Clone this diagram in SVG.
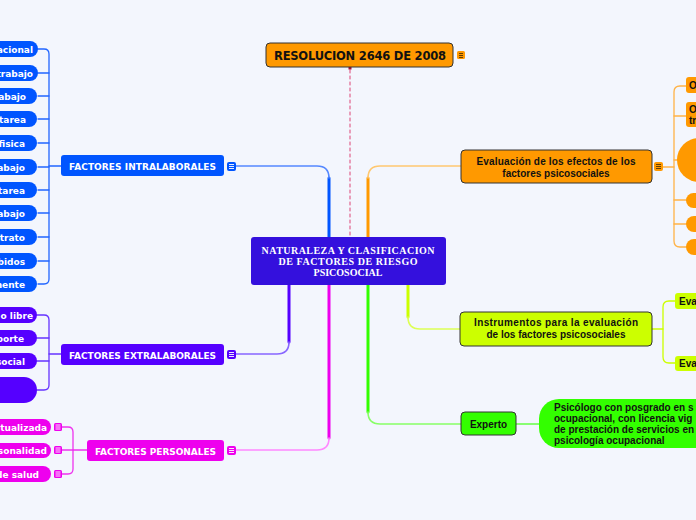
<svg xmlns="http://www.w3.org/2000/svg" width="696" height="520" viewBox="0 0 696 520">
<style>
.bg{fill:#f3f6fd}
.lbl{font-family:"Liberation Sans",Arial,sans-serif;font-weight:bold;font-size:10px}
.pl{font-family:"DejaVu Sans","Liberation Sans",sans-serif;font-weight:bold;font-size:9px;fill:#fff}
.cap{font-family:"DejaVu Sans","Liberation Sans",sans-serif;font-weight:bold;font-size:9px;fill:#fff}
.w{fill:#fff}
.k{fill:#111}
.ctr{font-family:"Liberation Serif","Times New Roman",serif;font-weight:bold;font-size:10px;fill:#fff}
.bd{stroke:#333;stroke-width:1}
.ln{fill:none;stroke-linecap:round;stroke-linejoin:round}
</style>
<rect class="bg" x="0" y="0" width="696" height="520"/>

<g id="connectors">
  <path class="ln" d="M329,237 V178" stroke="#0055ff" stroke-width="3"/>
  <path class="ln" d="M329,178 Q329,166 317,166 H236" stroke="#5588ff" stroke-width="1.6"/>
  <path class="ln" d="M368,237 V178" stroke="#ff9900" stroke-width="3"/>
  <path class="ln" d="M368,178 Q368,166 380,166 H461" stroke="#ffc870" stroke-width="1.6"/>
  <path class="ln" d="M350,70 V237" stroke="#dd4477" stroke-width="1" stroke-dasharray="3,3" stroke-linecap="butt"/>
  <rect x="348.5" y="66.5" width="3" height="3" fill="#aa1133"/>
  <path class="ln" d="M289,285 V342" stroke="#5500ff" stroke-width="3"/>
  <path class="ln" d="M289,342 Q289,354 277,354 H236" stroke="#8866ff" stroke-width="1.6"/>
  <path class="ln" d="M329,285 V438" stroke="#ee00ee" stroke-width="3"/>
  <path class="ln" d="M329,438 Q329,450 317,450 H236" stroke="#ff88ff" stroke-width="1.6"/>
  <path class="ln" d="M368,285 V412" stroke="#33ff00" stroke-width="3"/>
  <path class="ln" d="M368,412 Q368,424 380,424 H461" stroke="#88ff66" stroke-width="1.6"/>
  <path class="ln" d="M408,285 V317" stroke="#ccff00" stroke-width="3"/>
  <path class="ln" d="M408,317 Q408,329 420,329 H460" stroke="#ddff55" stroke-width="1.6"/>

  <g class="ln" stroke="#2266ff" stroke-width="1.3">
    <path d="M61,166 H49"/>
    <path d="M38,49 H44 Q49,49 49,54 V279 Q49,284 44,284 H38"/>
    <path d="M38,73 H49 M38,96 H49 M38,119 H49 M38,143 H49 M38,167 H49 M38,190 H49 M38,213 H49 M38,237 H49 M38,261 H49"/>
  </g>
  <g class="ln" stroke="#6633ff" stroke-width="1.3">
    <path d="M61,354 H49"/>
    <path d="M37,315 H44 Q49,315 49,320 V385 Q49,390 44,390 H37"/>
    <path d="M37,338 H49 M37,361 H49"/>
  </g>
  <g class="ln" stroke="#ee33ee" stroke-width="1.3">
    <path d="M87,450 H73"/>
    <path d="M62,427 H68 Q73,427 73,432 V469 Q73,474 68,474 H62"/>
    <path d="M62,450 H73"/>
  </g>
  <g class="ln" stroke="#ffb347" stroke-width="1.3">
    <path d="M663,167 H674"/>
    <path d="M686,86 H680 Q674,86 674,92 V241 Q674,247 680,247 H686"/>
    <path d="M686,116 H674 M677,160 H674 M686,200 H674 M686,224 H674"/>
  </g>
  <g class="ln" stroke="#ccff00" stroke-width="1.3">
    <path d="M652,329 H663"/>
    <path d="M675,301 H669 Q663,301 663,307 V357 Q663,363 669,363 H675"/>
  </g>
  <path class="ln" d="M516,424 H539" stroke="#66ff44" stroke-width="1.3"/>
</g>

<g id="center">
  <rect x="251" y="237" width="195" height="48" rx="3" fill="#3410dd"/>
  <text class="ctr" text-anchor="middle" x="348" y="254" textLength="173">NATURALEZA Y CLASIFICACION</text>
  <text class="ctr" text-anchor="middle" x="348" y="265" textLength="139">DE FACTORES DE RIESGO</text>
  <text class="ctr" text-anchor="middle" x="348" y="276">PSICOSOCIAL</text>
</g>

<g id="resolucion">
  <rect class="bd" x="266" y="43" width="187" height="24" rx="4" fill="#ff9900"/>
  <text class="k" x="360" y="60" text-anchor="middle" font-family="DejaVu Sans, sans-serif" font-weight="bold" font-size="11.5" textLength="172">RESOLUCION 2646 DE 2008</text>
  <rect x="457" y="51" width="8" height="8" rx="1.5" fill="#ff9900"/><path d="M459,53.5 H463 M459,55.5 H463 M459,57.5 H463" stroke="#553300" stroke-width="0.9"/>
</g>

<g id="intralaborales">
  <rect x="61" y="155" width="163" height="21" rx="3" fill="#0055ff"/>
  <text class="cap" x="142.5" y="169.5" text-anchor="middle" textLength="147">FACTORES INTRALABORALES</text>
  <rect x="227" y="162" width="9" height="9" rx="2" fill="#0055ff"/><path d="M229,164.5 H234 M229,166.5 H234 M229,168.5 H234" stroke="#fff" stroke-width="0.9"/>
</g>
<g id="intra-children" fill="#0055ff">
  <g id="i1"><rect x="-20" y="41" width="58" height="16" rx="8"/><text class="pl" x="33" y="52.5" text-anchor="end">acional</text></g>
  <g id="i2"><rect x="-20" y="65" width="58" height="16" rx="8"/><text class="pl" x="33" y="76.5" text-anchor="end">trabajo</text></g>
  <g id="i3"><rect x="-20" y="88" width="57" height="16" rx="8"/><text class="pl" x="26" y="99.5" text-anchor="end">abajo</text></g>
  <g id="i4"><rect x="-20" y="111" width="57" height="16" rx="8"/><text class="pl" x="26" y="122.5" text-anchor="end">tarea</text></g>
  <g id="i5"><rect x="-20" y="135" width="57" height="16" rx="8"/><text class="pl" x="25" y="146.5" text-anchor="end">fisica</text></g>
  <g id="i6"><rect x="-20" y="159" width="57" height="16" rx="8"/><text class="pl" x="25" y="170.5" text-anchor="end">abajo</text></g>
  <g id="i7"><rect x="-20" y="182" width="57" height="16" rx="8"/><text class="pl" x="25" y="193.5" text-anchor="end">tarea</text></g>
  <g id="i8"><rect x="-20" y="205" width="57" height="16" rx="8"/><text class="pl" x="25" y="216.5" text-anchor="end">abajo</text></g>
  <g id="i9"><rect x="-20" y="229" width="57" height="16" rx="8"/><text class="pl" x="25" y="240.5" text-anchor="end">trato</text></g>
  <g id="i10"><rect x="-20" y="253" width="57" height="16" rx="8"/><text class="pl" x="25" y="264.5" text-anchor="end">bidos</text></g>
  <g id="i11"><rect x="-20" y="276" width="57" height="16" rx="8"/><text class="pl" x="25" y="287.5" text-anchor="end">mente</text></g>
</g>

<g id="extralaborales">
  <rect x="61" y="344" width="163" height="21" rx="3" fill="#5500ff"/>
  <text class="cap" x="142.5" y="358.5" text-anchor="middle" textLength="147">FACTORES EXTRALABORALES</text>
  <rect x="227" y="350" width="9" height="9" rx="2" fill="#5500ff"/><path d="M229,352.5 H234 M229,354.5 H234 M229,356.5 H234" stroke="#fff" stroke-width="0.9"/>
</g>
<g id="extra-children" fill="#5500ff">
  <g id="e1"><rect x="-20" y="307" width="57" height="16" rx="8"/><text class="pl" x="33" y="318.5" text-anchor="end">o libre</text></g>
  <g id="e2"><rect x="-20" y="330" width="57" height="16" rx="8"/><text class="pl" x="24" y="341.5" text-anchor="end">porte</text></g>
  <g id="e3"><rect x="-20" y="353" width="57" height="16" rx="8"/><text class="pl" x="25" y="364.5" text-anchor="end">social</text></g>
  <g id="e4"><rect x="-20" y="377" width="57" height="26" rx="13"/></g>
</g>

<g id="personales">
  <rect x="87" y="440" width="137" height="21" rx="3" fill="#ee00ee"/>
  <text class="cap" x="155.5" y="454.5" text-anchor="middle" textLength="121">FACTORES PERSONALES</text>
  <rect x="227" y="446" width="9" height="9" rx="2" fill="#ee00ee"/><path d="M229,448.5 H234 M229,450.5 H234 M229,452.5 H234" stroke="#fff" stroke-width="0.9"/>
</g>
<g id="pers-children" fill="#ee00ee">
  <g id="p1"><rect x="-20" y="419" width="71" height="16" rx="8"/><text class="pl" x="47" y="430.5" text-anchor="end">ctualizada</text>
    <rect x="54" y="423" width="8" height="8" rx="1.5"/><path d="M55.5,425 H60.5 M55.5,427 H60.5 M55.5,429 H60.5" stroke="#fff" stroke-width="0.9"/></g>
  <g id="p2"><rect x="-20" y="443" width="71" height="15" rx="7.5"/><text class="pl" x="47" y="454" text-anchor="end">sonalidad</text>
    <rect x="54" y="446" width="8" height="8" rx="1.5"/><path d="M55.5,448 H60.5 M55.5,450 H60.5 M55.5,452 H60.5" stroke="#fff" stroke-width="0.9"/></g>
  <g id="p3"><rect x="-20" y="466" width="71" height="16" rx="8"/><text class="pl" x="39" y="477.5" text-anchor="end">de salud</text>
    <rect x="54" y="470" width="8" height="8" rx="1.5"/><path d="M55.5,472 H60.5 M55.5,474 H60.5 M55.5,476 H60.5" stroke="#fff" stroke-width="0.9"/></g>
</g>

<g id="evaluacion">
  <rect class="bd" x="461" y="150" width="191" height="33" rx="4" fill="#ff9900"/>
  <text class="lbl k" x="556" y="165" text-anchor="middle" textLength="159">Evaluación de los efectos de los</text>
  <text class="lbl k" x="556" y="177" text-anchor="middle">factores psicosociales</text>
  <rect x="654" y="162" width="9" height="9" rx="2" fill="#ff9900"/><path d="M656,164.5 H661 M656,166.5 H661 M656,168.5 H661" stroke="#553300" stroke-width="0.9"/>
</g>
<g id="eval-children" fill="#ff9900">
  <g id="o1"><rect x="686" y="77" width="40" height="16" rx="3"/><text class="lbl k" x="689" y="89">O</text></g>
  <g id="o2"><rect x="686" y="102" width="40" height="25" rx="3"/><text class="lbl k" x="689" y="113">O</text><text class="lbl k" x="689" y="124">tr</text></g>
  <g id="o3"><rect x="677" y="138" width="60" height="44" rx="22"/></g>
  <g id="o4"><rect x="686" y="193" width="40" height="15" rx="7.5"/></g>
  <g id="o5"><rect x="686" y="216" width="40" height="16" rx="8"/></g>
  <g id="o6"><rect x="686" y="239" width="40" height="16" rx="8"/></g>
</g>

<g id="instrumentos">
  <rect class="bd" x="460" y="312" width="192" height="34" rx="4" fill="#ccff00"/>
  <text class="lbl k" x="556" y="326" text-anchor="middle" textLength="164">Instrumentos para la evaluación</text>
  <text class="lbl k" x="556" y="338" text-anchor="middle">de los factores psicosociales</text>
</g>
<g id="instr-children" fill="#ccff00">
  <g id="y1"><rect x="675" y="293" width="40" height="16" rx="3"/><text class="lbl k" x="679" y="305">Eva</text></g>
  <g id="y2"><rect x="675" y="356" width="40" height="15" rx="3"/><text class="lbl k" x="679" y="367">Eva</text></g>
</g>

<g id="experto">
  <rect class="bd" x="461" y="412" width="55" height="23" rx="4" fill="#33ff00"/>
  <text class="lbl k" x="488.5" y="428" text-anchor="middle">Experto</text>
</g>
<g id="experto-child">
  <rect x="539" y="399" width="200" height="49" rx="20" fill="#33ff00"/>
  <text class="lbl k" x="554" y="411">Psicólogo con posgrado en s</text>
  <text class="lbl k" x="554" y="422">ocupacional, con licencia vig</text>
  <text class="lbl k" x="554" y="433">de prestación de servicios en</text>
  <text class="lbl k" x="554" y="444">psicología ocupacional</text>
</g>
</svg>
